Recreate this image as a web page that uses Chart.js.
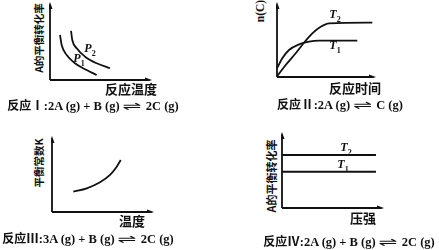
<!DOCTYPE html>
<html><head><meta charset="utf-8">
<script src="https://cdn.jsdelivr.net/npm/chart.js@4"></script>
<style>
html,body{margin:0;padding:0;background:#fff;}
#wrap{position:relative;width:439px;height:250px;overflow:hidden;background:#fff;}
canvas{position:absolute;}
.t{position:absolute;white-space:nowrap;color:#111;font-weight:bold;transform:translate(-50%,-50%);line-height:1;}
.yl{font-family:"Noto Sans CJK SC","Liberation Serif",sans-serif;font-size:10.5px;transform:translate(-50%,-50%) rotate(-90deg);}
.xl{font-family:"Noto Sans CJK SC",sans-serif;font-size:13px;}
.cap{font-family:"Liberation Serif","Noto Sans CJK SC",serif;font-size:12.5px;}
.cap .cn{font-family:"Noto Sans CJK SC",sans-serif;font-size:12px;}
.eq{display:inline-block;transform:scaleX(1.9);margin:0 8px;font-family:"DejaVu Sans",sans-serif;font-weight:normal;font-size:12px;}
.lab{font-family:"Liberation Serif",serif;font-style:italic;font-size:12px;}
.lab sub{font-size:8px;font-style:normal;}
</style></head>
<body><div id="wrap">
<canvas id="c1" width="103" height="79" style="left:49px;top:2px"></canvas>
<canvas id="c2" width="100" height="76" style="left:276px;top:2px"></canvas>
<canvas id="c3" width="103" height="77" style="left:51px;top:136px"></canvas>
<canvas id="c4" width="103" height="77" style="left:281px;top:132px"></canvas>

<div class="t yl" style="left:39px;top:38px">A的平衡转化率</div>
<div class="t xl" style="left:131px;top:88px">反应温度</div>
<div class="t cap" style="left:93px;top:106px"><span class="cn">反应</span>Ⅰ:2A (g) + B (g)<span class="eq">⇌</span>2C (g)</div>
<div class="t lab" style="left:79px;top:60px">P<sub>1</sub></div>
<div class="t lab" style="left:90px;top:50px">P<sub>2</sub></div>

<div class="t yl" style="left:261px;top:11px;font-family:'Liberation Serif',serif;font-size:11.5px">n(C)</div>
<div class="t xl" style="left:355px;top:87px">反应时间</div>
<div class="t cap" style="left:340px;top:105px"><span class="cn">反应</span>Ⅱ:2A (g)<span class="eq">⇌</span>C (g)</div>
<div class="t lab" style="left:335px;top:16px">T<sub>2</sub></div>
<div class="t lab" style="left:335px;top:47px">T<sub>1</sub></div>

<div class="t yl" style="left:39px;top:163px">平衡常数K</div>
<div class="t xl" style="left:132px;top:220px">温度</div>
<div class="t cap" style="left:88px;top:239px"><span class="cn">反应</span>Ⅲ:3A (g) + B (g)<span class="eq">⇌</span>2C (g)</div>

<div class="t yl" style="left:271px;top:176px;font-size:11px">A的平衡转化率</div>
<div class="t xl" style="left:363px;top:217px">压强</div>
<div class="t cap" style="left:349px;top:242px"><span class="cn">反应</span>Ⅳ:2A (g) + B (g)<span class="eq">⇌</span>2C (g)</div>
<div class="t lab" style="left:346px;top:149px">T<sub>2</sub></div>
<div class="t lab" style="left:343px;top:166px">T<sub>1</sub></div>
</div>
<script>
// Panel I: A conversion vs temperature
const p1X = [10.7, 12.3, 17.2, 25.2, 36.6, 46.3];
const p1Y = [58.2, 45.6, 32.9, 22.4, 13.9, 7.6];
const p2X = [21.4, 22.6, 26.9, 35.0, 46.3, 59.2];
const p2Y = [63.3, 51.9, 41.4, 30.8, 22.4, 16.1];
// Panel II: n(C) vs time
const t2X = [1.3, 9.7, 19.7, 28, 36.3, 44.7, 53, 96.3];
const t2Y = [2.6, 17.1, 32.5, 46.4, 58.8, 67.5, 72, 72.8];
const t1X = [1.0, 6.3, 13, 23, 33, 43, 81.3];
const t1Y = [12.8, 25.9, 36.8, 44.3, 47.8, 49.1, 49.1];
// Panel III: K vs temperature
const kX = [21.7, 34.7, 47.6, 57.3, 63.8, 67.7];
const kY = [27.7, 32.1, 39.9, 49.4, 60.1, 68.8];
// Panel IV: A conversion vs pressure
const pX = [1, 92.2];
const pT2 = [70.1, 70.1];
const pT1 = [48.4, 48.4];

const toPts = (xs, ys) => xs.map((x, i) => ({x, y: ys[i]}));

const axesPlugin = {
  id: 'axes',
  beforeDatasetsDraw(chart) {
    const {ctx, chartArea: a} = chart;
    const ox = a.left + 1, oy = a.bottom - 1;
    ctx.save();
    ctx.strokeStyle = '#111';
    ctx.fillStyle = '#111';
    ctx.lineWidth = 1.8;
    ctx.beginPath();
    ctx.moveTo(ox, oy); ctx.lineTo(ox, a.top + 5);
    ctx.moveTo(ox, oy); ctx.lineTo(a.right - 5, oy);
    ctx.stroke();
    ctx.beginPath();
    ctx.moveTo(ox, a.top); ctx.lineTo(ox - 2.5, a.top + 7); ctx.lineTo(ox + 2.5, a.top + 7); ctx.closePath();
    ctx.fill();
    ctx.beginPath();
    ctx.moveTo(a.right, oy); ctx.lineTo(a.right - 7, oy - 2.5); ctx.lineTo(a.right - 7, oy + 2.5); ctx.closePath();
    ctx.fill();
    ctx.restore();
  }
};

function make(id, sets) {
  new Chart(document.getElementById(id), {
    type: 'scatter',
    data: {datasets: sets.map(s => ({
      data: s, showLine: true, borderColor: '#111', borderWidth: 1.8,
      pointRadius: 0, cubicInterpolationMode: 'monotone', fill: false
    }))},
    options: {
      responsive: false, animation: false, devicePixelRatio: 1,
      layout: {padding: 0},
      plugins: {legend: {display: false}, tooltip: {enabled: false}},
      scales: {
        x: {type: 'linear', min: 0, max: 100, display: false},
        y: {type: 'linear', min: 0, max: 100, display: false}
      }
    },
    plugins: [axesPlugin]
  });
}
make('c1', [toPts(p1X, p1Y), toPts(p2X, p2Y)]);
make('c2', [toPts(t2X, t2Y), toPts(t1X, t1Y)]);
make('c3', [toPts(kX, kY)]);
make('c4', [toPts(pX, pT2), toPts(pX, pT1)]);
</script>
</body></html>
